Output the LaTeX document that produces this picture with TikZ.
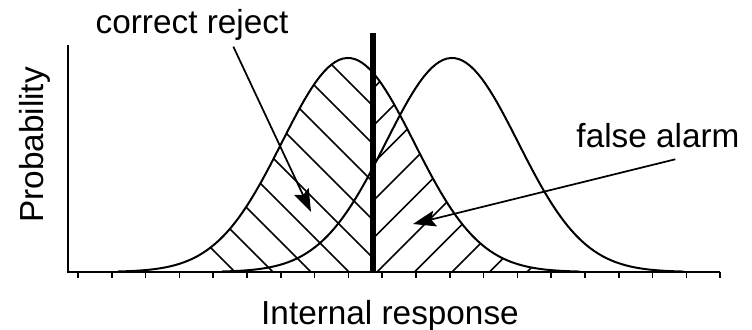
\documentclass[tikz,border=0pt]{standalone}
\usepackage{fontspec}
\setmainfont{Liberation Sans}
\usetikzlibrary{arrows.meta}

\tikzset{
    curve/.style={line width=1.5pt},
    hatch/.style={line width=1.3pt},
    txt/.style={font=\fontsize{25}{30}\selectfont, inner sep=2pt, text depth=5pt},
    pointer/.style={line width=1.3pt, -{Stealth[length=17pt, width=12pt, inset=3pt]}},
}

\begin{document}
\begin{tikzpicture}[x=0.75pt, y=-0.75pt,
    declare function={noise(\x)=272-214*exp(-0.5*((\x-348)/66)^2);
                      signal(\x)=272-214*exp(-0.5*((\x-452)/66)^2);}]

    \useasboundingbox (0,0) rectangle (752,329);

    % Hatching left of the criterion
    \begin{scope}
        \clip (118,272) -- plot[domain=118:373, samples=80] (\x, {noise(\x)}) -- (373,272) -- cycle;
        \foreach \c in {0,...,10}
            \draw[hatch] (235+38*\c, 272) -- ++(-280,-280);
    \end{scope}

    % Hatching right of the criterion
    \begin{scope}
        \clip (373,272) -- plot[domain=373:580, samples=80] (\x, {noise(\x)}) -- (580,272) -- cycle;
        \foreach \d in {-5,...,5}
            \draw[hatch] (377+37.5*\d, 272) -- ++(280,-280);
    \end{scope}

    % Distributions
    \draw[curve] plot[domain=118:580, samples=120] (\x, {noise(\x)});
    \draw[curve] plot[domain=222:684, samples=120] (\x, {signal(\x)});

    % Criterion
    \draw[line width=5pt] (373,33) -- (373,272);

    % Axes
    \draw[line width=1.5pt] (68,45) -- (68,272) -- (720,272);
    \foreach \i in {0,...,19}
        \draw[line width=1.2pt] (78+33.8*\i, 272) -- ++(0,6);

    % Labels
    \node[txt, anchor=base] (reject) at (192,33) {correct reject};
    \node[txt, anchor=base] (alarm) at (658,147) {false alarm};
    \node[txt, anchor=base, rotate=90] (prob) at (43,145) {Probability};
    \node[txt, anchor=base] (resp) at (390,324) {Internal response};

    % Pointers
    \coordinate (rejtip) at (311,212);
    \coordinate (alarmtip) at (413,224);
    \draw[pointer] ([xshift=31pt, yshift=-3pt]reject.south) -- (rejtip);
    \draw[pointer] ([xshift=13pt, yshift=-2pt]alarm.south) -- (alarmtip);

\end{tikzpicture}
\end{document}
